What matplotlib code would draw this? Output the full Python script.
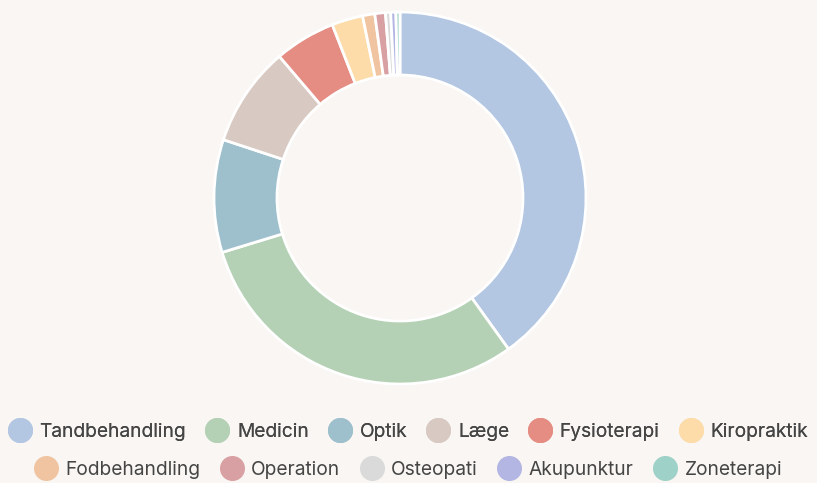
import matplotlib.pyplot as plt
from matplotlib.lines import Line2D

labels = ["Tandbehandling", "Medicin", "Optik", "Læge", "Fysioterapi", "Kiropraktik",
          "Fodbehandling", "Operation", "Osteopati", "Akupunktur", "Zoneterapi"]
values = [40.1, 30.2, 9.8, 8.7, 5.3, 2.7, 1.06, 0.92, 0.45, 0.45, 0.35]
colors = ["#b3c6e2", "#b5d1b5", "#9ebfcc", "#d8cac2", "#e58c83", "#fddcaa",
          "#f0c4a0", "#d9a0a3", "#dadada", "#b3b5e3", "#9ed1c7"]

bg = "#f9f6f3"
plt.rcParams['font.family'] = ['Inter', 'DejaVu Sans']

fig = plt.figure(figsize=(8.17, 4.83), dpi=100, facecolor=bg)
ax = fig.add_axes([0, 0, 1, 1])
ax.set_facecolor(bg)

ax.pie(values, colors=colors, startangle=90, counterclock=False,
       center=(400, 285), radius=186,
       wedgeprops=dict(width=63, edgecolor='white', linewidth=2))
ax.set_xlim(0, 817)
ax.set_ylim(0, 483)
ax.set_aspect('equal')
ax.axis('off')

def handles(idx):
    return [Line2D([], [], linestyle='none', marker='o', markersize=17,
                   markerfacecolor=colors[i], markeredgecolor=colors[i]) for i in idx]

row1 = list(range(6))
row2 = list(range(6, 11))
kw = dict(loc='center', frameon=False, fontsize=13.8, handlelength=1.15,
          handletextpad=0.45, columnspacing=1.05, labelcolor='#454545', borderaxespad=0)
leg1 = fig.legend(handles(row1), [labels[i] for i in row1], ncol=6,
                  bbox_to_anchor=(0.5, 1 - 432 / 483), **kw)
fig.add_artist(leg1)
fig.legend(handles(row2), [labels[i] for i in row2], ncol=5,
           bbox_to_anchor=(0.5, 1 - 470 / 483), **kw)

fig.savefig("out.png", dpi=100, facecolor=bg)
